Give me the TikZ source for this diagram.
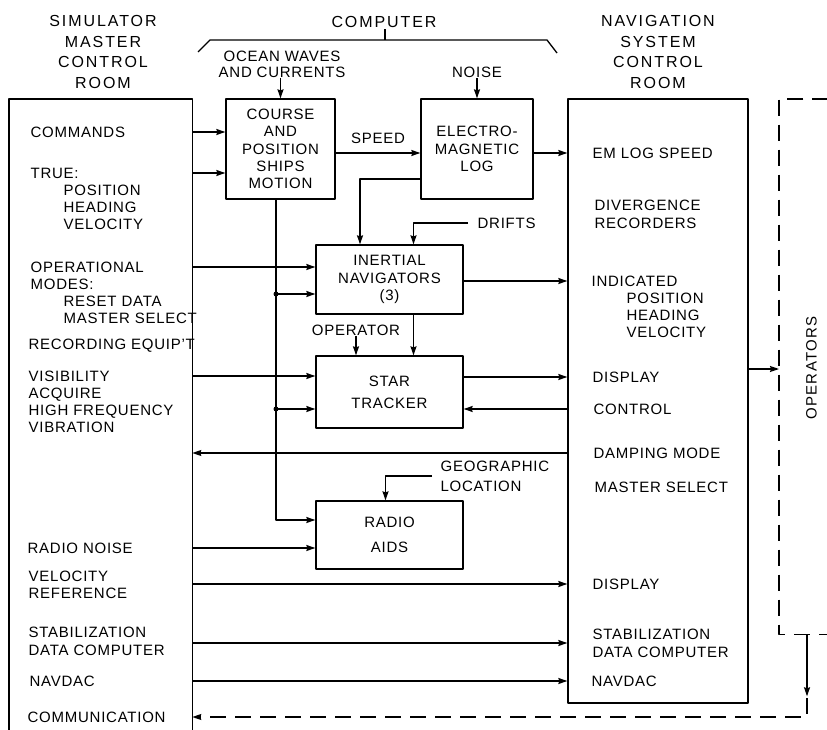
\documentclass[tikz,border=0pt]{standalone}
\usepackage{fontspec}
\setmainfont{Liberation Sans}[LetterSpace=5]
\usetikzlibrary{arrows.meta,positioning}
\begin{document}
\begin{tikzpicture}[x=1pt,y=-1pt,line join=round,line width=1.3pt,
    >={Stealth[length=9pt,width=6pt,inset=1pt]},font=\fontsize{15}{17.3}\selectfont]
	\tikzset{blk/.style={draw,align=center,inner sep=0pt},
		tag/.style={inner sep=0pt,text height=11pt,text depth=0pt},
		lbl/.style={tag,anchor=west},
		head/.style={align=center,inner sep=0pt,font=\fontsize{16}{20.8}\selectfont\addfontfeatures{LetterSpace=12}},
		dsh/.style={dash pattern=on 16pt off 9pt}}
	\useasboundingbox (0,0) rectangle (827,730);
	% rooms
	\node[inner sep=0pt,minimum width=182,minimum height=630,anchor=north west] (sim) at (9,99) {};
	\draw (sim.south west) -- (sim.north west) -- (sim.north east) -- (sim.south east);
	\node[blk,minimum width=180,minimum height=604] (nav) at (658,401) {};
	\node[inner sep=0pt,minimum width=48,minimum height=534,anchor=north west] (ops) at (779,99) {};
	\draw[dsh] (ops.north east) -- (ops.north west) -- (ops.south west) -- (ops.south east);
	\node[head] (simhd) at (103,52) {SIMULATOR\\MASTER\\CONTROL\\ROOM};
	\node[head] (navhd) at (nav.north |- simhd) {NAVIGATION\\SYSTEM\\CONTROL\\ROOM};
	\node[head,text height=11.5pt,text depth=0pt] (comp) at (384,22) {COMPUTER};
	\draw (198,52) -- (210,40) -- (547,40) -- (557,53);
	\draw (385,40) -- (385,29);
	\node[tag,rotate=90,font=\fontsize{15}{17}\selectfont\addfontfeatures{LetterSpace=9}] (opr) at (811,368) {OPERATORS};
	% computer blocks
	\node[blk,minimum width=109,minimum height=100] (course) at (280.5,149) {COURSE\\AND\\POSITION\\SHIPS\\MOTION};
	\node[blk,minimum width=112,minimum height=100] (elog) at (477,149) {ELECTRO-\\MAGNETIC\\LOG};
	\node[blk,minimum width=147,minimum height=69] (inert) at (389.5,279.5) {INERTIAL\\NAVIGATORS\\(3)};
	\node[blk,minimum width=147,minimum height=72] (star) at (389.5,392) {STAR\\[5pt]TRACKER};
	\node[blk,minimum width=147,minimum height=68] (radio) at (389.5,535) {RADIO\\[8pt]AIDS};
	\node[align=center,inner sep=0pt,font=\fontsize{15}{16}\selectfont] (ocean) at (282,64) {OCEAN WAVES\\AND CURRENTS};
	\node[tag] (noise) at (477,72) {NOISE};
	\node[tag] (spd) at (378,138) {SPEED};
	\node[lbl] (drift) at (477,223) {DRIFTS};
	\node[tag] (oper) at (356,330) {OPERATOR};
	\node[anchor=west,align=left,inner sep=0pt,font=\fontsize{15}{20}\selectfont] (geo) at (440,476) {GEOGRAPHIC\\LOCATION};
	% room texts
	\foreach \x/\y/\t/\n in {30/132/COMMANDS/cmd,30/173/TRUE:/tru,63/190/POSITION/s1,63/207/HEADING/s2,
		63/224/VELOCITY/s3,30/267/OPERATIONAL/opm,30/284/MODES:/s4,63/301/RESET DATA/s5,
		63/318/MASTER SELECT/s6,28/344/RECORDING EQUIP'T/s7,28/376/VISIBILITY/vis,28/393/ACQUIRE/s8,
		28/410/HIGH FREQUENCY/s9,28/427/VIBRATION/s10,27/548/RADIO NOISE/rno,28/576/VELOCITY/vref,
		28/593/REFERENCE/s11,28/632/STABILIZATION/stab,28/650/DATA COMPUTER/s12,29/681/NAVDAC/ndac,
		27/717/COMMUNICATION/comm}
		\node[lbl] (L-\n) at (\x,\y) {\t};
	\foreach \x/\y/\t/\n in {592/153/EM LOG SPEED/em,594/205/DIVERGENCE/r1,594/223/RECORDERS/r2,
		591/281/INDICATED/ind,626/298/POSITION/r3,626/315/HEADING/r4,626/332/VELOCITY/r5,
		592/377/DISPLAY/dsp,593/409/CONTROL/ctl,593/453/DAMPING MODE/damp,594/487/MASTER SELECT/r6,
		592/584/DISPLAY/dsp2,592/634/STABILIZATION/r7,592/652/DATA COMPUTER/r8,591/681/NAVDAC/r9}
		\node[lbl] (R-\n) at (\x,\y) {\t};
	% signals
	\draw[->] (course.north |- ocean.south) -- (course.north);
	\draw[->] (elog.north |- noise.south) -- (elog.north);
	\draw[->] (sim.east |- L-cmd) -- (course.west |- L-cmd);
	\draw[->] (sim.east |- L-tru) -- (course.west |- L-tru);
	\draw[->] ([yshift=-4pt]course.east) -- ([yshift=-4pt]elog.west);
	\draw[->] (elog.east |- R-em) -- (nav.west |- R-em);
	\draw[->] (elog.west |- 0,179) -| ([xshift=-29.5pt]inert.north);
	\draw[->] ([xshift=-9pt]drift.west) -| ([xshift=24pt]inert.north);
	\coordinate (j1) at (276,294);
	\coordinate (j2) at (276,409);
	\draw[->] ([xshift=-4.5pt]course.south) |- ([yshift=15pt]radio.west);
	\draw[->] (j1) -- (inert.west |- j1);
	\draw[->] (j2) -- (star.west |- j2);
	\fill (j1) circle (2.5pt) (j2) circle (2.5pt);
	\draw[->] (sim.east |- L-opm) -- (inert.west |- L-opm);
	\draw[->] (inert.east |- R-ind) -- (nav.west |- R-ind);
	\draw[->] (oper.south) -- (oper.south |- star.north);
	\draw[->] ([xshift=24pt]inert.south) -- ([xshift=24pt]star.north);
	\draw[->] (sim.east |- L-vis) -- (star.west |- L-vis);
	\draw[->] (star.east |- R-dsp) -- (nav.west |- R-dsp);
	\draw[->] (nav.west |- R-ctl) -- (star.east |- R-ctl);
	\draw[->] (nav.west |- R-damp) -- (sim.east |- R-damp);
	\draw[->] ([xshift=-8pt]geo.west) -| ([xshift=-4pt]radio.north);
	\draw[->] (sim.east |- L-rno) -- (radio.west |- L-rno);
	\draw[->] (sim.east |- R-dsp2) -- (nav.west |- R-dsp2);
	\draw[->] (sim.east |- 0,643) -- (nav.west |- 0,643);
	\draw[->] (sim.east |- R-r9) -- (nav.west |- R-r9);
	\draw[->] (nav.east |- 0,369) -- (ops.west |- 0,369);
	\coordinate (jo) at ([xshift=28pt]ops.south west);
	\draw[->] (jo) -- ++(0,62);
	\draw[dsh,->] ([yshift=-64pt]jo) |- (sim.east |- L-comm);
\end{tikzpicture}
\end{document}
